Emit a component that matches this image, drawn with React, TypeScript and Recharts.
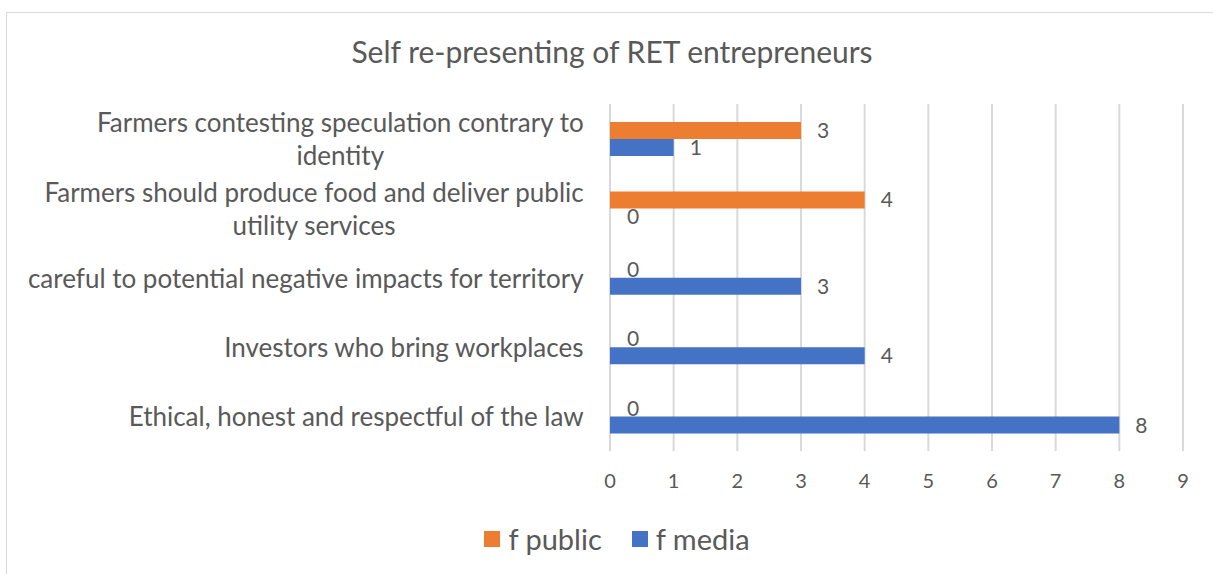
import { BarChart, Bar, XAxis, YAxis, CartesianGrid, Legend, LabelList, Rectangle } from 'recharts';

const categories = [
  'Farmers contesting speculation contrary to\nidentity',
  'Farmers should produce food and deliver public\nutility services',
  'careful to potential negative impacts for territory',
  'Investors who bring workplaces',
  'Ethical, honest and respectful of the law',
];
const fPublic = [3, 4, 0, 0, 0];
const fMedia = [1, 0, 3, 4, 8];
const xTicks = [0, 1, 2, 3, 4, 5, 6, 7, 8, 9];

const SERIES = [
  { key: 'public', name: 'f public', color: '#ED7D31' },
  { key: 'media', name: 'f media', color: '#4472C4' },
];

const FONT = 'Lato, "Open Sans", sans-serif';
const TEXT = '#595959';
const TICK_SIZE = 26;

const data = categories.map((c, i) => ({ name: c, public: fPublic[i], media: fMedia[i] }));

let ctx: CanvasRenderingContext2D | null = null;
function measure(s: string) {
  if (!ctx) ctx = document.createElement('canvas').getContext('2d');
  if (!ctx) return s.length * TICK_SIZE * 0.48;
  ctx.font = `${TICK_SIZE}px ${FONT}`;
  return ctx.measureText(s).width;
}

// labels are right aligned as a block, lines centred inside it (like Excel)
function CategoryTick(props: any) {
  const { x, y, payload } = props;
  const lines: string[] = String(payload.value).split('\n');
  const lh = 33;
  const start = y - ((lines.length - 1) * lh) / 2;
  const right = x - 18;
  const blockW = Math.max(...lines.map(measure));
  const cx = right - blockW / 2;
  return (
    <text x={cx} y={start} textAnchor="middle" fill={TEXT} fontSize={TICK_SIZE} fontFamily={FONT} dominantBaseline="central">
      {lines.map((l, i) => (
        <tspan key={i} x={cx} y={start + i * lh}>
          {l}
        </tspan>
      ))}
    </text>
  );
}

// zero values keep a 1px placeholder so their label shows, but draw nothing
function BarShape(props: any) {
  if (!props.value || props.width <= 1) return <g />;
  return <Rectangle {...props} />;
}

function LegendContent() {
  return (
    <div style={{ display: 'flex', justifyContent: 'center', gap: 30, fontFamily: FONT, fontSize: 29, color: TEXT }}>
      {SERIES.map((s) => (
        <div key={s.key} style={{ display: 'flex', alignItems: 'center' }}>
          <span style={{ width: 16, height: 16, background: s.color, display: 'inline-block', marginRight: 8 }} />
          <span>{s.name}</span>
        </div>
      ))}
    </div>
  );
}

export default function App() {
  return (
    <div style={{ position: 'absolute', left: 0, top: 0, width: 1213, height: 574, overflow: 'hidden', background: '#fff' }}>
      <div
        style={{
          position: 'absolute',
          left: 6,
          top: 12,
          width: 1240,
          height: 600,
          border: '1px solid #d9d9d9',
        }}
      />
      <div
        style={{
          position: 'absolute',
          left: 0,
          top: 33,
          width: 1224,
          textAlign: 'center',
          fontFamily: FONT,
          fontSize: 30,
          color: TEXT,
        }}
      >
        Self re-presenting of RET entrepreneurs
      </div>
      <div style={{ position: 'absolute', left: 0, top: 0 }}>
        <BarChart
          width={1213}
          height={574}
          data={data}
          layout="vertical"
          margin={{ top: 104, right: 30, bottom: 83, left: 0 }}
          barSize={17}
          barGap={0}
        >
          <CartesianGrid horizontal={false} stroke="#d9d9d9" strokeWidth={2} />
          <XAxis
            type="number"
            domain={[0, 9]}
            ticks={xTicks}
            axisLine={false}
            tickLine={false}
            tickMargin={17}
            tick={{ fill: TEXT, fontSize: 20, fontFamily: FONT }}
            height={40}
          />
          <YAxis
            type="category"
            dataKey="name"
            width={610}
            axisLine={false}
            tickLine={false}
            tick={<CategoryTick />}
            interval={0}
          />
          <Legend
            layout="vertical"
            align="center"
            verticalAlign="middle"
            wrapperStyle={{ top: 521, left: 0, width: 1234 }}
            content={<LegendContent />}
          />
          {SERIES.map((s) => (
            <Bar
              key={s.key}
              dataKey={s.key}
              name={s.name}
              fill={s.color}
              minPointSize={1}
              shape={<BarShape />}
              isAnimationActive={false}
            >
              <LabelList
                dataKey={s.key}
                position="right"
                offset={16}
                fill={TEXT}
                fontSize={21}
                fontFamily={FONT}
              />
            </Bar>
          ))}
        </BarChart>
      </div>
    </div>
  );
}
